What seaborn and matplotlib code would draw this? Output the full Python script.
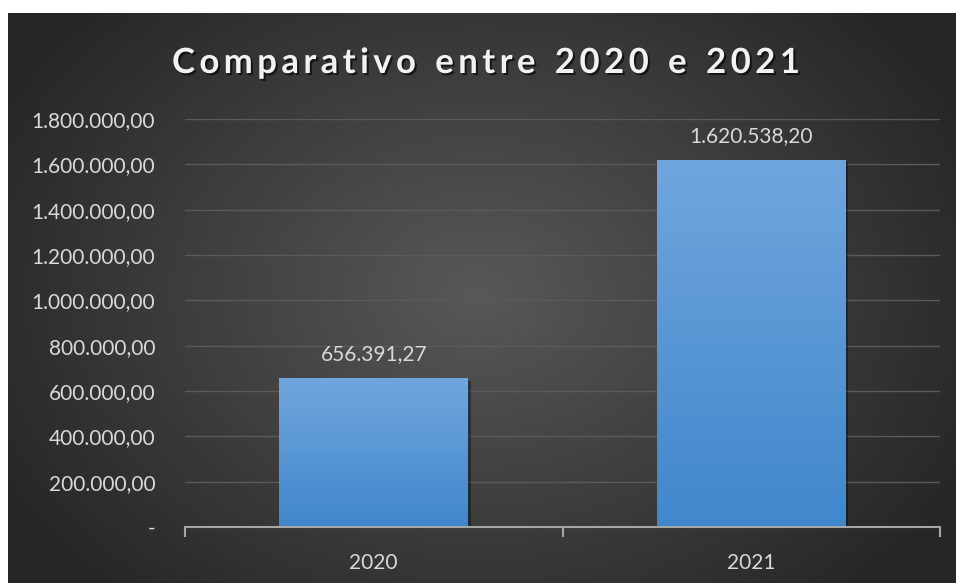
import numpy as np
import pandas as pd
import seaborn as sns
import matplotlib.pyplot as plt
import matplotlib.patheffects as pe

# Comparativo entre 2020 e 2021
anos = ['2020', '2021']
valores = [656391.27, 1620538.20]
ticks_y = [0, 200000, 400000, 600000, 800000, 1000000, 1200000, 1400000, 1600000, 1800000]
titulo = 'Comparativo entre 2020 e 2021'


def fmt_br(v):
    if v == 0:
        return '-'
    s = f'{v:,.2f}'
    return s.replace(',', 'X').replace('.', ',').replace('X', '.')


df = pd.DataFrame({'Ano': anos, 'Valor': valores})

sns.set_theme(style='dark')
plt.rcParams['font.family'] = ['Lato', 'DejaVu Sans']

fig = plt.figure(figsize=(9.56, 5.83), dpi=100)
fig.patch.set_facecolor('white')

# dark panel with radial gradient
bg = fig.add_axes([8 / 956, 0, 1 - 8 / 956, 1 - 13 / 583])
yy, xx = np.mgrid[0:570, 0:948]
r = np.sqrt(((xx - 470) / 560.0) ** 2 + ((yy - 280) / 420.0) ** 2)
shade = np.clip(0.345 - 0.2 * r, 0.15, 0.35)
bg.imshow(np.dstack([shade] * 3), aspect='auto', extent=(0, 1, 0, 1), interpolation='bilinear')
bg.set_axis_off()

ax = fig.add_axes([185 / 956, 1 - 527 / 583, (940 - 185) / 956, (527 - 119) / 583])
ax.patch.set_alpha(0)
sns.barplot(data=df, x='Ano', y='Valor', ax=ax, width=0.5, color='#5b9bd5', saturation=1)

# gradient fill on bars
grad = np.linspace(0, 1, 256).reshape(-1, 1)
top_c = np.array([0.44, 0.65, 0.87])
bot_c = np.array([0.25, 0.53, 0.80])
for p in ax.patches:
    x0, w, h = p.get_x(), p.get_width(), p.get_height()
    img = (top_c * (1 - grad[:, :, None]) + bot_c * grad[:, :, None]).reshape(256, 1, 3)
    im = ax.imshow(img, aspect='auto', extent=(x0, x0 + w, 0, h), zorder=p.get_zorder() + 0.1)
    im.set_clip_path(p)
    p.set_edgecolor('none')
    p.set_path_effects([pe.SimplePatchShadow(offset=(2, -2), shadow_rgbFace='black', alpha=0.35), pe.Normal()])
ax.set_xlim(-0.5, 1.5)
ax.set_ylim(0, 1800000)

for i, v in enumerate(valores):
    ax.annotate(fmt_br(v), (i, v), xytext=(0, 10), textcoords='offset points',
                ha='center', va='bottom', fontsize=15, color='#d9d9d9')

ax.set_yticks(ticks_y)
ax.set_yticklabels([fmt_br(t) for t in ticks_y], fontsize=15, color='#d9d9d9')
ax.tick_params(axis='y', length=0, pad=21.5)
ax.tick_params(axis='x', which='major', length=0, pad=19, labelsize=15, labelcolor='#d9d9d9')
ax.set_xticks([-0.5, 0.5, 1.5], minor=True)
ax.tick_params(axis='x', which='minor', bottom=True, length=7, width=1.5, color='#a6a6a6', direction='out')

ax.grid(axis='y', color='#5a5a5a', linewidth=1)
ax.grid(axis='x', visible=False)
for s in ['left', 'right', 'top']:
    ax.spines[s].set_visible(False)
ax.spines['bottom'].set_color('#a6a6a6')
ax.spines['bottom'].set_linewidth(1.5)
ax.set_xlabel('')
ax.set_ylabel('')

# title with letter spacing, drawn char by char
renderer = fig.canvas.get_renderer()
spacing = 4.4
tfont = dict(fontsize=25, fontweight='bold', color='#f2f2f2', family=['Lato', 'DejaVu Sans'])
widths = []
for ch in titulo:
    t = fig.text(0, 0, ch if ch != ' ' else 'i', **tfont)
    wpx = t.get_window_extent(renderer).width
    if ch == ' ':
        wpx *= 1.2
    widths.append(wpx)
    t.remove()
total = sum(widths) + spacing * (len(titulo) - 1)
xc = 486
x = xc - total / 2
for ch, wpx in zip(titulo, widths):
    if ch != ' ':
        fig.text(x / 956, 1 - 63 / 583, ch, ha='left', va='center', **tfont,
                 path_effects=[pe.withSimplePatchShadow(offset=(1.5, -1.5), shadow_rgbFace='black', alpha=0.6)])
    x += wpx + spacing

fig.savefig('out.png', dpi=100)
